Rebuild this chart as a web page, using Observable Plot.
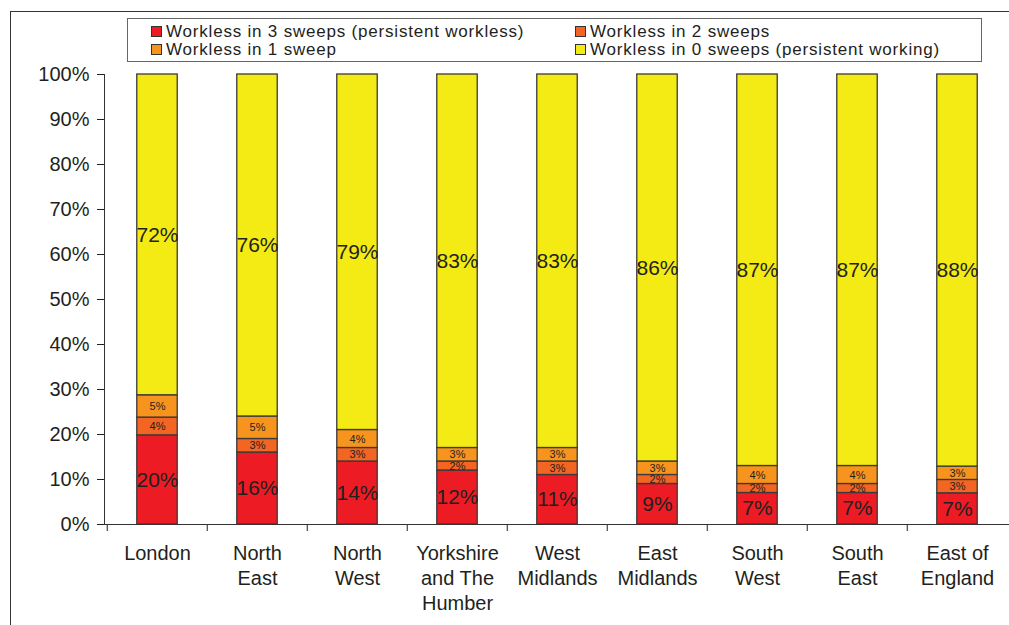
<!DOCTYPE html>
<html>
<head>
<meta charset="utf-8">
<script src="https://cdn.jsdelivr.net/npm/d3@7"></script>
<script src="https://cdn.jsdelivr.net/npm/@observablehq/plot@0.6"></script>
<style>
  html, body { margin: 0; padding: 0; background: #fff; }
  body { width: 1009px; height: 625px; overflow: hidden; position: relative;
         font-family: "Liberation Sans", Arial, sans-serif; color: #231f20; }
  #frame { position: absolute; left: 10px; top: 11px; width: 1100px; height: 700px;
           border-left: 1.5px solid #333; border-top: 1.5px solid #333; }
  #chart { position: absolute; left: 0; top: 0; }
  #legend { position: absolute; left: 127px; top: 18px; width: 855px; height: 44px;
            border: 1px solid #666; background: #fff; box-sizing: border-box; }
  .item { position: absolute; font-size: 17px; line-height: 17px; letter-spacing: 0.8px; white-space: nowrap; }
  .swatch { display: inline-block; width: 9px; height: 9px; border: 1px solid #333;
            margin-right: 4px; vertical-align: 0px; }
</style>
</head>
<body>
<div id="frame"></div>
<div id="chart"></div>
<div id="legend"></div>
<script>
// Regions along the x axis and their wrapped tick labels
const regions = ["London", "North East", "North West", "Yorkshire and The Humber", "West Midlands",
                 "East Midlands", "South West", "South East", "East of England"];
const regionLabels = ["London", "North\nEast", "North\nWest", "Yorkshire\nand The\nHumber", "West\nMidlands",
                      "East\nMidlands", "South\nWest", "South\nEast", "East of\nEngland"];

// Series, bottom to top of each stack
const series = ["Workless in 3 sweeps (persistent workless)", "Workless in 2 sweeps",
                "Workless in 1 sweep", "Workless in 0 sweeps (persistent working)"];
const seriesColors = ["#ED1C24", "#F26522", "#F7941D", "#F4EA14"];

// Share of households (%) per region
const workless3 = [20, 16, 14, 12, 11, 9, 7, 7, 7];
const workless2 = [4, 3, 3, 2, 3, 2, 2, 2, 3];
const workless1 = [5, 5, 4, 3, 3, 3, 4, 4, 3];
const workless0 = [72, 76, 79, 83, 83, 86, 87, 87, 88];

const yTicks = [0, 10, 20, 30, 40, 50, 60, 70, 80, 90, 100];

const seriesValues = [workless3, workless2, workless1, workless0];
const rows = [];
regions.forEach((region, i) => {
  series.forEach((s, j) => rows.push({region, series: s, value: seriesValues[j][i], big: j === 0 || j === 3}));
});

const width = 1009, height = 625;
const marginLeft = 104, marginRight = 0, marginTop = 74, marginBottom = 101;
const step = (width - marginLeft - marginRight) / regions.length;
const barInset = (step - 41) / 2;

const stack = (opts) => Plot.stackY({offset: "normalize", x: "region", y: "value", z: "series", ...opts});

const chart = Plot.plot({
  width, height, marginLeft, marginRight, marginTop, marginBottom,
  style: {fontFamily: "'Liberation Sans', Arial, sans-serif", fontSize: "20px", color: "#231f20", background: "transparent"},
  x: {domain: regions, padding: 0, label: null},
  y: {domain: [0, 100], percent: true, label: null},
  color: {domain: series, range: seriesColors},
  marks: [
    Plot.barY(rows, stack({fill: "series", stroke: "#3a3a3a", strokeWidth: 1.3, insetLeft: barInset, insetRight: barInset})),
    Plot.text(rows, stack({text: d => d.big ? d.value + "%" : "", fontSize: 21, fill: "#231f20"})),
    Plot.text(rows, stack({text: d => d.big ? "" : d.value + "%", fontSize: 11, fill: "#231f20"})),
    Plot.axisY({ticks: yTicks, tickFormat: d => d + "%", tickSize: 7, tickPadding: 8, fontSize: 20}),
    Plot.axisX({ticks: regions, tickFormat: d => regionLabels[regions.indexOf(d)], tickSize: 0,
                tickPadding: 18, lineHeight: 1.25, fontSize: 20}),
    Plot.axisX({ticks: regions, tickFormat: () => "", tickSize: 7, dx: -step / 2, strokeWidth: 1}),
    Plot.frame({anchor: "left", stroke: "#333"}),
    Plot.ruleY([0], {stroke: "#333"})
  ]
});
document.getElementById("chart").appendChild(chart);

// Two-column legend box above the bars
const legend = document.getElementById("legend");
const positions = [[23, 4], [447, 4], [23, 22], [447, 22]];
series.forEach((name, k) => {
  const item = document.createElement("div");
  item.className = "item";
  item.style.left = positions[k][0] + "px";
  item.style.top = positions[k][1] + "px";
  const sw = document.createElement("span");
  sw.className = "swatch";
  sw.style.background = seriesColors[k];
  item.appendChild(sw);
  item.appendChild(document.createTextNode(name));
  legend.appendChild(item);
});
</script>
</body>
</html>
